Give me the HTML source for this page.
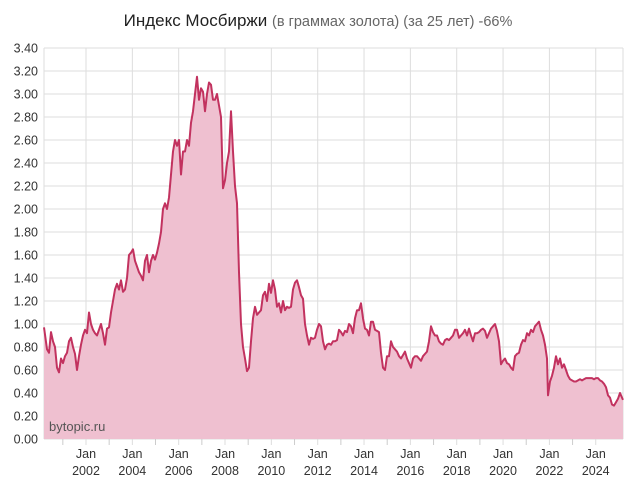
<!DOCTYPE html>
<html><head><meta charset="utf-8"><style>
body{margin:0;background:#fff;width:636px;height:483px;overflow:hidden;font-family:"Liberation Sans",sans-serif}
</style></head><body>
<svg id="s" width="636" height="483" xmlns="http://www.w3.org/2000/svg" font-family="Liberation Sans, sans-serif">
<text x="318" y="26" text-anchor="middle" font-size="17" fill="#222">Индекс Мосбиржи <tspan fill="#666" font-size="14.5">(в граммах золота) (за 25 лет) -66%</tspan></text>
<g id="grid"></g>
<path id="area" fill="#efc0d0" stroke="none"/>
<path id="line" fill="none" stroke="#c2325f" stroke-width="2" stroke-linejoin="round"/>
<text x="49" y="431" font-size="13" fill="#555">bytopic.ru</text>
<g id="lab" font-size="12.5" fill="#333"></g>
</svg>
<script>
var d=[44,.97,47,.78,49,.75,51,.93,53,.85,55,.8,57,.62,59,.58,61,.7,63,.66,65,.72,67,.75,69,.85,71,.88,73,.8,75,.74,77,.6,79,.72,81,.82,83,.9,85,.95,87,.92,89,1.1,91,1,93,.95,95,.92,97,.9,99,.95,101,1,103,.92,105,.82,107,.96,109,.97,111,1.1,113,1.2,115,1.3,117,1.35,119,1.3,121,1.38,123,1.28,125,1.3,127,1.4,129,1.6,131,1.62,133,1.65,135,1.55,137,1.5,139,1.45,141,1.42,143,1.38,145,1.55,147,1.6,149,1.45,151,1.55,153,1.6,155,1.56,157,1.62,159,1.7,161,1.8,163,2,165,2.05,167,2,169,2.1,171,2.3,173,2.5,175,2.6,177,2.55,179,2.6,181,2.3,183,2.5,185,2.5,187,2.6,189,2.55,191,2.75,193,2.85,195,3,197,3.15,199,2.95,201,3.05,203,3.02,205,2.85,207,3,209,3.1,211,3.08,213,2.95,215,2.95,217,3,219,2.9,221,2.8,223,2.18,225,2.25,227,2.4,229,2.5,231,2.85,233,2.5,235,2.2,237,2.05,239,1.45,241,1,243,.8,245,.7,247,.59,249,.62,251,.85,253,1.05,255,1.15,257,1.08,259,1.1,261,1.12,263,1.25,265,1.28,267,1.2,269,1.35,271,1.27,273,1.38,275,1.3,277,1.15,279,1.18,281,1.1,283,1.2,285,1.12,287,1.15,289,1.14,291,1.15,293,1.3,295,1.36,297,1.38,299,1.32,301,1.25,303,1.22,305,1,307,.9,309,.82,311,.88,313,.87,315,.88,317,.95,319,1,321,.98,323,.85,325,.78,327,.82,329,.83,331,.82,333,.85,335,.85,337,.86,339,.95,341,.93,343,.9,345,.94,347,.93,349,1,351,.98,353,.92,355,1.05,357,1.12,359,1.12,361,1.18,363,1.05,365,.96,367,.95,369,.9,371,1.02,373,1.02,375,.95,377,.94,379,.93,381,.75,383,.62,385,.6,387,.72,389,.72,391,.85,393,.8,395,.78,397,.76,399,.72,401,.7,403,.73,405,.76,407,.7,409,.66,411,.62,413,.7,415,.72,417,.72,419,.7,421,.68,423,.72,425,.74,427,.76,429,.85,431,.98,433,.93,435,.9,437,.9,439,.85,441,.83,443,.82,445,.86,447,.87,449,.86,451,.88,453,.9,455,.95,457,.95,459,.88,461,.9,463,.92,465,.95,467,.9,469,.96,471,.9,473,.85,475,.92,477,.92,479,.93,481,.95,483,.96,485,.94,487,.88,489,.92,491,.96,493,.98,495,1,497,.94,499,.85,501,.65,503,.68,505,.7,507,.66,509,.65,511,.62,513,.6,515,.72,517,.74,519,.75,521,.82,523,.86,525,.85,527,.92,529,.9,531,.95,533,.93,535,.98,537,1,539,1.02,541,.95,543,.9,545,.82,547,.7,548,.38,550,.5,552,.55,554,.62,556,.72,558,.65,560,.7,562,.62,564,.65,566,.6,568,.55,570,.52,572,.51,574,.5,576,.5,578,.51,580,.52,582,.51,584,.52,586,.53,588,.53,590,.53,592,.53,594,.52,596,.53,598,.53,600,.51,602,.5,604,.48,606,.45,608,.38,610,.36,612,.3,614,.29,616,.32,618,.35,620,.4,622,.36,623,.34];
var Y=function(v){return 439-v*115};
var p="";for(var i=0;i<d.length;i+=2)p+=(i?"L":"M")+d[i]+","+Y(d[i+1]).toFixed(1);
document.getElementById("line").setAttribute("d",p);
document.getElementById("area").setAttribute("d",p+"L623,439L44,439Z");
var g="",l="";
for(var k=0;k<=17;k++){var v=k*0.2,y=Y(v);
 g+='<line x1="44" x2="623" y1="'+y+'" y2="'+y+'" stroke="#ddd"/>';
 l+='<text x="38" y="'+(y+4.5)+'" text-anchor="end">'+v.toFixed(2)+'</text>';}
for(var yr=2002;yr<=2024;yr+=2){var x=86+(yr-2002)*23.17;
 g+='<line x1="'+x+'" x2="'+x+'" y1="48" y2="445" stroke="#ddd"/>';
 g+='<line x1="'+(x-23.17)+'" x2="'+(x-23.17)+'" y1="439" y2="445" stroke="#ccc"/>';
 l+='<text x="'+x+'" y="458" text-anchor="middle">Jan</text><text x="'+x+'" y="475" text-anchor="middle">'+yr+'</text>';}
g+='<line x1="44" x2="44" y1="48" y2="439" stroke="#ddd"/><line x1="623" x2="623" y1="48" y2="439" stroke="#ddd"/>';
document.getElementById("grid").innerHTML=g;
document.getElementById("lab").innerHTML=l;
</script>
</body></html>
